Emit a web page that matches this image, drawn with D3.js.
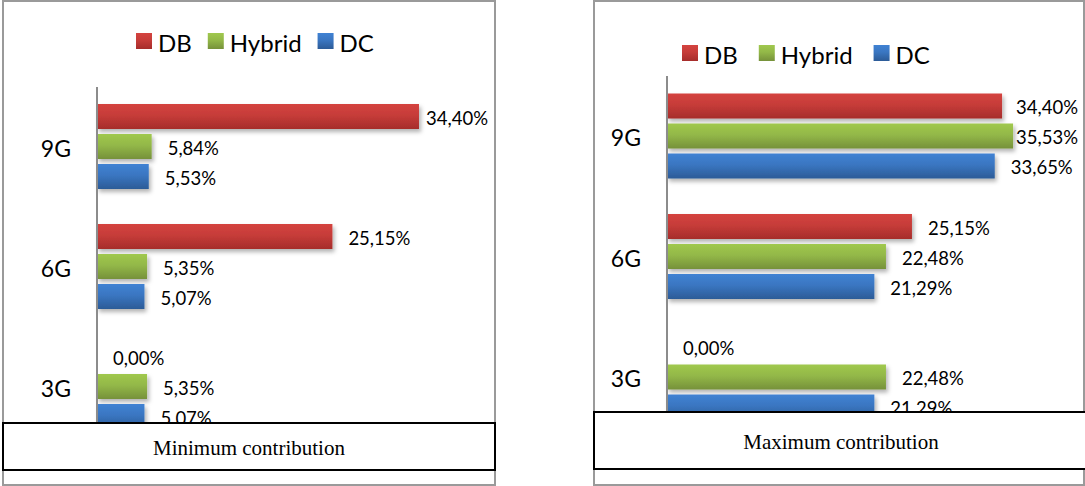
<!DOCTYPE html>
<html>
<head>
<meta charset="utf-8">
<script src="https://cdn.jsdelivr.net/npm/d3@7"></script>
<style>
  html, body { margin: 0; padding: 0; background: #fff; }
  svg { display: block; }
</style>
</head>
<body>
<svg id="chart" width="1085" height="486"></svg>
<script>
// Categories and series
const categories = ["9G", "6G", "3G"];
const seriesNames = ["DB", "Hybrid", "DC"];

// Minimum contribution (%)
const minDB = [34.40, 25.15, 0.00];
const minHybrid = [5.84, 5.35, 5.35];
const minDC = [5.53, 5.07, 5.07];

// Maximum contribution (%)
const maxDB = [34.40, 25.15, 0.00];
const maxHybrid = [35.53, 22.48, 22.48];
const maxDC = [33.65, 21.29, 21.29];

const captions = ["Minimum contribution", "Maximum contribution"];

const colors = {
  DB: ["#d4433f", "#a62d2b"],
  Hybrid: ["#a0c84e", "#76913a"],
  DC: ["#4082d3", "#2c5b97"]
};

const fmt = v => v.toFixed(2).replace(".", ",") + "%";

const svg = d3.select("#chart");
const defs = svg.append("defs");

seriesNames.forEach(s => {
  const g = defs.append("linearGradient")
    .attr("id", "grad-" + s).attr("x1", 0).attr("y1", 0).attr("x2", 0).attr("y2", 1);
  g.append("stop").attr("offset", "0%").attr("stop-color", colors[s][0]);
  g.append("stop").attr("offset", "45%").attr("stop-color", d3.interpolateRgb(colors[s][0], colors[s][1])(0.3));
  g.append("stop").attr("offset", "100%").attr("stop-color", colors[s][1]);
});

const shadow = defs.append("filter").attr("id", "shadow")
  .attr("x", "-5%").attr("y", "-20%").attr("width", "120%").attr("height", "160%");
shadow.append("feDropShadow")
  .attr("dx", 2).attr("dy", 3).attr("stdDeviation", 2)
  .attr("flood-color", "#000").attr("flood-opacity", 0.3);

const FONT = "Lato, 'Open Sans', sans-serif";

function drawPanel(cfg) {
  const g = svg.append("g");

  // panel frame
  g.append("rect")
    .attr("x", cfg.frame[0]).attr("y", cfg.frame[1])
    .attr("width", cfg.frame[2]).attr("height", cfg.frame[3])
    .attr("fill", "#fff").attr("stroke", "#9a9a9a").attr("stroke-width", 2);

  const x = d3.scaleLinear().domain([0, 40]).range([cfg.axisX, cfg.axisX + 40 * cfg.pxPerUnit]);
  const y = d3.scaleBand().domain(categories).range(cfg.yRange).padding(0);
  const yInner = d3.scaleBand().domain(seriesNames).range([-45, 45])
    .paddingInner(1 / 6).paddingOuter(1 / 12);

  const rows = [];
  categories.forEach((c, i) => {
    seriesNames.forEach(s => {
      rows.push({ cat: c, series: s, value: cfg.values[s][i] });
    });
  });

  const cy = d => y(d.cat) + y.bandwidth() / 2 + yInner(d.series);

  // bars
  g.append("g").selectAll("rect")
    .data(rows.filter(d => d.value > 0))
    .join("rect")
    .attr("x", x(0))
    .attr("y", cy)
    .attr("width", d => x(d.value) - x(0))
    .attr("height", yInner.bandwidth())
    .attr("fill", d => "url(#grad-" + d.series + ")")
    .attr("filter", "url(#shadow)");

  // value axis line
  g.append("line")
    .attr("x1", cfg.axisX).attr("x2", cfg.axisX)
    .attr("y1", cfg.axisTop).attr("y2", cfg.captionBox[1])
    .attr("stroke", "#8c8c8c").attr("stroke-width", 2);

  // category labels
  g.append("g").selectAll("text")
    .data(categories)
    .join("text")
    .attr("x", cfg.axisX - 26)
    .attr("y", d => y(d) + y.bandwidth() / 2 + 1)
    .attr("text-anchor", "end")
    .attr("dominant-baseline", "central")
    .attr("font-family", FONT).attr("font-size", 23)
    .attr("fill", "#000")
    .text(d => d);

  // data labels
  g.append("g").selectAll("text")
    .data(rows)
    .join("text")
    .attr("y", d => cy(d) + yInner.bandwidth() / 2 + 1)
    .attr("dominant-baseline", "central")
    .attr("font-family", FONT).attr("font-size", 18.5)
    .attr("fill", "#000")
    .text(d => fmt(d.value))
    .each(function (d) {
      const w = this.getComputedTextLength();
      const px = Math.min(x(d.value) + 16, cfg.plotRight - w);
      d3.select(this).attr("x", px);
    });

  // legend
  const lg = g.append("g");
  let lx = cfg.legendX;
  seriesNames.forEach(s => {
    lg.append("rect")
      .attr("x", lx).attr("y", cfg.legendY - 8)
      .attr("width", 16).attr("height", 16)
      .attr("fill", "url(#grad-" + s + ")");
    const t = lg.append("text")
      .attr("x", lx + 22).attr("y", cfg.legendY + 1)
      .attr("dominant-baseline", "central")
      .attr("font-family", FONT).attr("font-size", 24)
      .attr("fill", "#000")
      .text(s);
    lx += 22 + t.node().getComputedTextLength() + cfg.legendGap;
  });

  // caption box (covers the lower part of the plot)
  g.append("rect")
    .attr("x", cfg.captionBox[0]).attr("y", cfg.captionBox[1])
    .attr("width", cfg.captionBox[2]).attr("height", cfg.captionBox[3])
    .attr("fill", "#fff").attr("stroke", "#000").attr("stroke-width", 2);
  g.append("text")
    .attr("x", cfg.captionBox[0] + cfg.captionBox[2] / 2 + cfg.captionShift)
    .attr("y", cfg.captionBox[1] + cfg.captionBox[3] / 2 + 1)
    .attr("text-anchor", "middle")
    .attr("dominant-baseline", "central")
    .attr("font-family", "'Liberation Serif', 'Times New Roman', serif")
    .attr("font-size", 21)
    .attr("fill", "#000")
    .text(cfg.caption);
}

drawPanel({
  frame: [3, 1, 492, 484],
  axisX: 97, axisTop: 87, pxPerUnit: 9.36,
  yRange: [86.5, 446.5], plotRight: 488,
  values: { DB: minDB, Hybrid: minHybrid, DC: minDC },
  legendX: 136, legendY: 41, legendGap: 16,
  captionBox: [3, 423, 492, 47], captionShift: 0,
  caption: captions[0]
});

drawPanel({
  frame: [594, 1, 490, 484],
  axisX: 667, axisTop: 76, pxPerUnit: 9.74,
  yRange: [75.75, 437.25], plotRight: 1078,
  values: { DB: maxDB, Hybrid: maxHybrid, DC: maxDC },
  legendX: 682, legendY: 53, legendGap: 21,
  captionBox: [594, 412, 494, 57], captionShift: 0,
  caption: captions[1]
});
</script>
</body>
</html>
